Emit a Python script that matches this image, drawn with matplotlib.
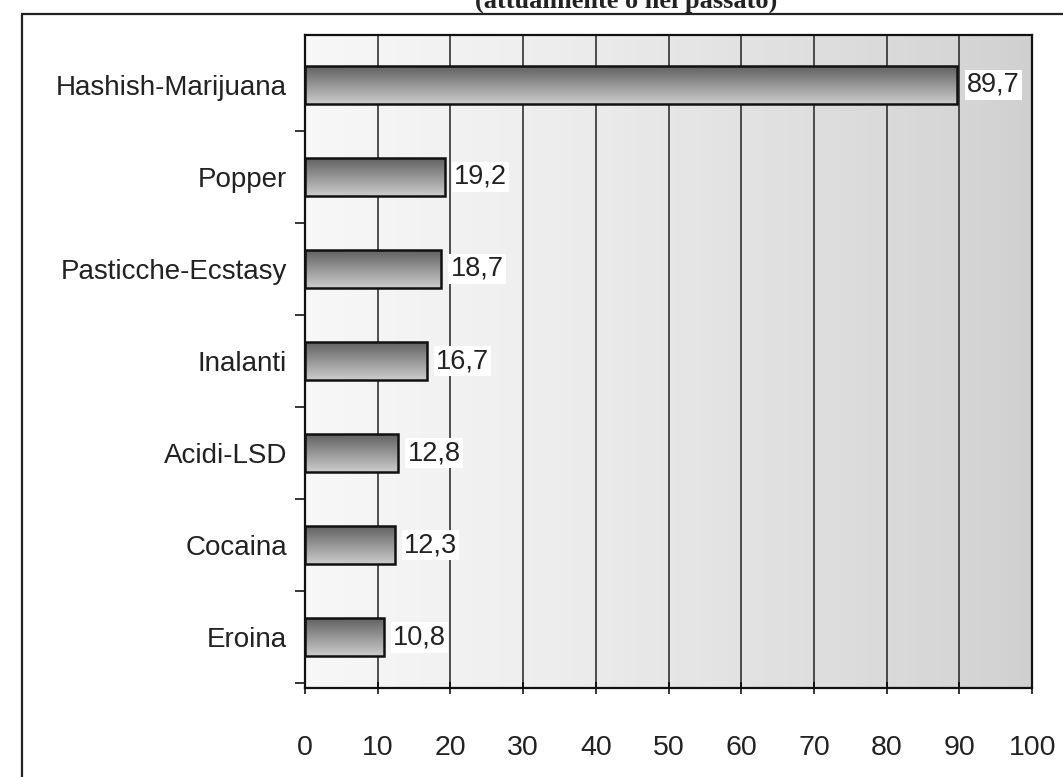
import matplotlib.pyplot as plt
import numpy as np
from matplotlib.patches import Rectangle

categories = ["Hashish-Marijuana", "Popper", "Pasticche-Ecstasy", "Inalanti",
              "Acidi-LSD", "Cocaina", "Eroina"]
values = [89.7, 19.2, 18.7, 16.7, 12.8, 12.3, 10.8]
labels = ["89,7", "19,2", "18,7", "16,7", "12,8", "12,3", "10,8"]
xticks = list(range(0, 101, 10))

plt.rcParams['font.family'] = ['Liberation Sans', 'DejaVu Sans']

fig = plt.figure(figsize=(10.63, 7.77), dpi=100)
ax = fig.add_axes([0.287, 0.1145, 0.684, 0.8405])

# outer frame of the scanned figure
fig.patches.append(Rectangle((22 / 1063, -0.1), 1.2, 1.1 - 14 / 777,
                             transform=fig.transFigure, fill=False,
                             edgecolor='#222222', linewidth=1.6))
fig.text(0.447, 0.998, "(attualmente o nel passato)", family='Liberation Serif',
         fontweight='bold', fontsize=19, va='center', ha='left', color='#222222')

ypos = np.arange(len(categories))
ax.set_xlim(0, 100)
ax.set_ylim(len(categories) - 0.45, -0.54)

# dotted background getting denser to the right
bg = np.linspace(0, 1, 200).reshape(1, -1)
ax.imshow(bg, cmap='Greys', vmin=-0.3, vmax=4.2, aspect='auto',
          extent=[0, 100, len(categories) - 0.45, -0.54], zorder=0)

for x in xticks[1:-1]:
    ax.axvline(x, color='#222222', linewidth=1.1, zorder=1)

grad = np.linspace(0.38, 0.8, 100).reshape(-1, 1)
for y, v, lab in zip(ypos, values, labels):
    h = 0.41
    im = ax.imshow(grad, cmap='gray', vmin=0, vmax=1, aspect='auto',
                   extent=[0, v, y + h / 2, y - h / 2], zorder=2)
    rect = Rectangle((0, y - h / 2), v, h, facecolor='none',
                     edgecolor='#111111', linewidth=1.8, zorder=3)
    ax.add_patch(rect)
    im.set_clip_path(rect)
    ax.text(v + 1.3, y, lab, va='center', ha='left', fontsize=19.5,
            color='#222222', zorder=4,
            bbox=dict(facecolor='white', edgecolor='none', pad=1.5))

ax.set_yticks(ypos)
ax.set_yticklabels(categories, fontsize=20, color='#222222')
ax.set_yticks(np.arange(len(categories)) + 0.5, minor=True)
ax.tick_params(axis='y', which='major', length=0, pad=13)
ax.tick_params(axis='y', which='minor', length=7, width=1.1, direction='out')
ax.set_xticks(xticks)
ax.set_xticklabels([str(t) for t in xticks], fontsize=20.5, color='#222222')
ax.tick_params(axis='x', length=8, width=1.1, direction='inout', pad=30)

for s in ax.spines.values():
    s.set_linewidth(1.6)
    s.set_color('#111111')

fig.savefig('out.png', dpi=100)
